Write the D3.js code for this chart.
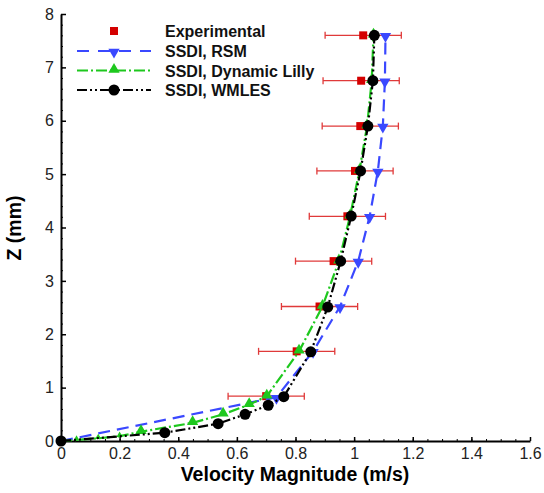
<!DOCTYPE html>
<html>
<head>
<meta charset="utf-8">
<script src="https://cdn.jsdelivr.net/npm/d3@7"></script>
<style>
  body { margin: 0; background: #fff; }
  svg { display: block; font-family: "Liberation Sans", Arial, sans-serif; }
</style>
</head>
<body>
<svg id="chart" width="544" height="493"></svg>
<script>
// values
const expZ   = [0.84, 1.68, 2.52, 3.37, 4.21, 5.06, 5.90, 6.75, 7.60];
const expVel = [0.700, 0.804, 0.882, 0.930, 0.977, 1.003, 1.021, 1.024, 1.031];
const expErr = [0.13, 0.13, 0.13, 0.13, 0.13, 0.13, 0.13, 0.13, 0.13];

const rsmZ   = [0, 0.82, 1.68, 2.52, 3.37, 4.21, 5.06, 5.90, 6.75, 7.60];
const rsmVel = [0, 0.735, 0.860, 0.952, 1.014, 1.053, 1.081, 1.098, 1.105, 1.107];

const lillyZ   = [0, 0.02, 0.05, 0.09, 0.174, 0.34, 0.50, 0.68, 0.84, 1.68, 2.52, 3.37, 4.21, 5.06, 5.90, 6.75, 7.60];
const lillyVel = [0, 0.053, 0.127, 0.200, 0.273, 0.449, 0.553, 0.642, 0.702, 0.812, 0.892, 0.948, 0.986, 1.018, 1.044, 1.060, 1.066];

const wmlesZ   = [0, 0.155, 0.325, 0.50, 0.67, 0.83, 1.67, 2.51, 3.37, 4.215, 5.06, 5.90, 6.75, 7.60];
const wmlesVel = [0, 0.354, 0.536, 0.628, 0.707, 0.760, 0.852, 0.910, 0.954, 0.990, 1.022, 1.047, 1.064, 1.069];

const xTicks = [0, 0.2, 0.4, 0.6, 0.8, 1, 1.2, 1.4, 1.6];
const yTicks = [0, 1, 2, 3, 4, 5, 6, 7, 8];
const legendLabels = ["Experimental", "SSDI, RSM", "SSDI, Dynamic Lilly", "SSDI, WMLES"];

const svg = d3.select("#chart");
const x = d3.scaleLinear().domain([0, 1.6]).range([61, 530]);
const y = d3.scaleLinear().domain([0, 8]).range([441, 14]);

const red = "#d40000", blue = "#3a48ff", green = "#1ec81e";

// axes
const minorX = d3.range(0, 1.6001, 0.05);
const minorY = d3.range(0, 8.0001, 0.2);

svg.append("g")
  .attr("transform", "translate(0,441)")
  .call(d3.axisBottom(x).tickValues(minorX).tickSizeInner(-2).tickSizeOuter(0).tickFormat(""))
  .call(g => g.select(".domain").remove());
svg.append("g")
  .attr("transform", "translate(61,0)")
  .call(d3.axisLeft(y).tickValues(minorY).tickSizeInner(-2).tickSizeOuter(0).tickFormat(""))
  .call(g => g.select(".domain").remove());

const xAxis = svg.append("g")
  .attr("transform", "translate(0,441)")
  .call(d3.axisBottom(x).tickValues(xTicks).tickSizeInner(-4).tickSizeOuter(0).tickPadding(7)
    .tickFormat(d => d3.format("")(+d.toFixed(1))));
const yAxis = svg.append("g")
  .attr("transform", "translate(61,0)")
  .call(d3.axisLeft(y).tickValues(yTicks).tickSizeInner(-5).tickSizeOuter(0).tickPadding(7));

[xAxis, yAxis].forEach(g => {
  g.select(".domain").attr("stroke-width", 2).attr("stroke", "#000");
  g.selectAll(".tick line").attr("stroke-width", 1.5);
  g.selectAll("text").attr("font-size", 16).attr("fill", "#222")
    .attr("font-family", "'Liberation Sans', Arial, sans-serif");
});

svg.append("text")
  .attr("x", 295).attr("y", 481)
  .attr("text-anchor", "middle")
  .attr("font-size", 19.5).attr("font-weight", "bold")
  .text("Velocity Magnitude (m/s)");
svg.append("text")
  .attr("transform", "translate(21,228) rotate(-90)")
  .attr("text-anchor", "middle")
  .attr("font-size", 19.5).attr("font-weight", "bold")
  .text("Z (mm)");

// series
const line = d3.line().x(d => x(d[0])).y(d => y(d[1]));
const zip = (v, z) => v.map((d, i) => [d, z[i]]);

const triDown = d3.symbol().type(d3.symbolTriangle).size(55)();
const triUp = d3.symbol().type(d3.symbolTriangle).size(55)();

// experimental with error bars
const expG = svg.append("g");
expVel.forEach((v, i) => {
  const yy = y(expZ[i]);
  const x0 = x(v - expErr[i]), x1 = x(v + expErr[i]);
  expG.append("line").attr("x1", x0).attr("x2", x1).attr("y1", yy).attr("y2", yy)
    .attr("stroke", "#e03a3a").attr("stroke-width", 1.3);
  [x0, x1].forEach(xx => expG.append("line")
    .attr("x1", xx).attr("x2", xx).attr("y1", yy - 3.5).attr("y2", yy + 3.5)
    .attr("stroke", "#e03a3a").attr("stroke-width", 1.3));
});
expG.selectAll("rect").data(zip(expVel, expZ)).join("rect")
  .attr("x", d => x(d[0]) - 4).attr("y", d => y(d[1]) - 4)
  .attr("width", 8).attr("height", 8).attr("fill", red);

// RSM
svg.append("path").datum(zip(rsmVel, rsmZ)).attr("d", line)
  .attr("fill", "none").attr("stroke", blue).attr("stroke-width", 2.2)
  .attr("stroke-dasharray", "12,7");
svg.append("g").selectAll("path").data(zip(rsmVel, rsmZ).slice(1)).join("path")
  .attr("d", triDown)
  .attr("transform", d => `translate(${x(d[0])},${y(d[1]) + 1}) rotate(180)`)
  .attr("fill", blue);

// Dynamic Lilly
svg.append("path").datum(zip(lillyVel, lillyZ)).attr("d", line)
  .attr("fill", "none").attr("stroke", green).attr("stroke-width", 2.2)
  .attr("stroke-dasharray", "11,3,2,3");
svg.append("g").selectAll("path").data(zip(lillyVel, lillyZ).slice(1)).join("path")
  .attr("d", triUp)
  .attr("transform", (d, i) => `translate(${x(d[0])},${y(d[1]) - 1}) scale(${i < 3 ? 0.55 : 1})`)
  .attr("fill", green);

// WMLES
svg.append("path").datum(zip(wmlesVel, wmlesZ)).attr("d", line)
  .attr("fill", "none").attr("stroke", "#000").attr("stroke-width", 2.2)
  .attr("stroke-dasharray", "10,3,2,3,2,3");
svg.append("g").selectAll("circle").data(zip(wmlesVel, wmlesZ)).join("circle")
  .attr("cx", d => x(d[0])).attr("cy", d => y(d[1])).attr("r", 5.5).attr("fill", "#000");

// legend
const legend = svg.append("g");
const rowY = [31, 51, 70.5, 90];
const lx0 = 77, lx1 = 151, mx = 114;
legend.append("rect").attr("x", mx - 4).attr("y", rowY[0] - 4).attr("width", 8).attr("height", 8).attr("fill", red);
[[blue, "12,9"], [green, "11,3,2,3"], ["#000", "10,3,2,3,2,3"]].forEach((s, i) => {
  legend.append("line").attr("x1", lx0).attr("x2", lx1).attr("y1", rowY[i + 1]).attr("y2", rowY[i + 1])
    .attr("stroke", s[0]).attr("stroke-width", 2.2).attr("stroke-dasharray", s[1]);
});
legend.append("path").attr("d", triDown).attr("transform", `translate(${mx},${rowY[1] + 1}) rotate(180)`).attr("fill", blue);
legend.append("path").attr("d", triUp).attr("transform", `translate(${mx},${rowY[2] - 1})`).attr("fill", green);
legend.append("circle").attr("cx", mx).attr("cy", rowY[3]).attr("r", 5.5).attr("fill", "#000");
legend.selectAll("text").data(legendLabels).join("text")
  .attr("x", 165).attr("y", (d, i) => rowY[i] + 6)
  .attr("font-size", 16).attr("font-weight", "bold").attr("fill", "#111")
  .text(d => d);
</script>
</body>
</html>
